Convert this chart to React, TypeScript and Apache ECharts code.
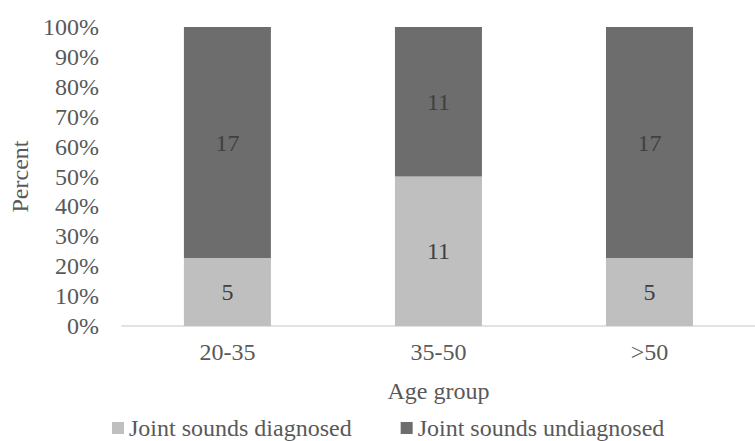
import React, { useEffect, useRef } from "react";
import * as echarts from "echarts";

const categories = ["20-35", "35-50", ">50"];
const diagnosed = [5, 11, 5];
const undiagnosed = [17, 11, 17];
const seriesNames = ["Joint sounds diagnosed", "Joint sounds undiagnosed"];
const yTicks = { min: 0, max: 100, interval: 10 };

const FONT = "Liberation Serif";
const TEXT = "#595959";

export default function App() {
  const ref = useRef<HTMLDivElement>(null);
  useEffect(() => {
    if (!ref.current) return;
    const chart = echarts.init(ref.current, undefined, { renderer: "svg" });
    const totals = diagnosed.map((d, i) => d + undiagnosed[i]);
    const pct = (arr: number[]) =>
      arr.map((v, i) => ({ value: (v / totals[i]) * 100, raw: v }));
    const label = {
      show: true,
      position: "inside",
      fontFamily: FONT,
      fontSize: 24,
      color: "#404040",
      formatter: (p: any) => String(p.data.raw),
    };
    chart.setOption({
      animation: false,
      textStyle: { fontFamily: FONT },
      grid: { left: 120, top: 27, width: 644, height: 299 },
      legend: {
        left: 112,
        top: 416,
        padding: 0,
        itemWidth: 12,
        itemHeight: 12,
        itemGap: 49,
        icon: "rect",
        textStyle: { fontFamily: FONT, fontSize: 24, color: TEXT, lineHeight: 24 },
        data: seriesNames,
      },
      xAxis: {
        type: "category",
        data: categories,
        name: "Age group",
        nameLocation: "middle",
        nameGap: 53,
        nameTextStyle: { fontFamily: FONT, fontSize: 24, color: TEXT },
        axisLine: { lineStyle: { color: "#d9d9d9", width: 1.5 } },
        axisTick: { show: false },
        axisLabel: { fontFamily: FONT, fontSize: 24, color: TEXT, margin: 14 },
      },
      yAxis: {
        type: "value",
        min: yTicks.min,
        max: yTicks.max,
        interval: yTicks.interval,
        name: "Percent",
        nameLocation: "middle",
        nameGap: 86,
        nameTextStyle: { fontFamily: FONT, fontSize: 24, color: TEXT },
        axisLine: { show: false },
        axisTick: { show: false },
        splitLine: { show: false },
        axisLabel: {
          fontFamily: FONT,
          fontSize: 24,
          color: TEXT,
          margin: 23,
          formatter: "{value}%",
        },
      },
      series: [
        {
          name: seriesNames[0],
          type: "bar",
          stack: "total",
          barWidth: 87,
          itemStyle: { color: "#bfbfbf" },
          label,
          data: pct(diagnosed),
        },
        {
          name: seriesNames[1],
          type: "bar",
          stack: "total",
          barWidth: 87,
          itemStyle: { color: "#6d6d6d" },
          label,
          data: pct(undiagnosed),
        },
      ],
    });
    return () => chart.dispose();
  }, []);
  return (
    <div
      ref={ref}
      style={{ position: "absolute", left: 0, top: 0, width: 755, height: 441 }}
    />
  );
}
